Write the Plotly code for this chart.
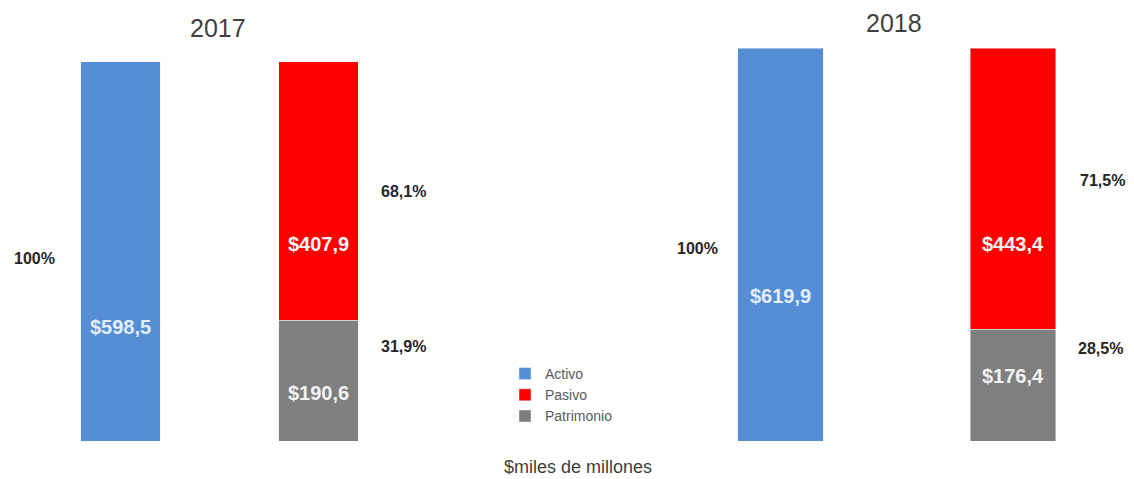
import plotly.graph_objects as go

# ---- data ----
years = ["2017", "2018"]
categories = ["Activo", "Pasivo y Patrimonio"]
activo = [598.5, 619.9]
pasivo = [407.9, 443.4]
patrimonio = [190.6, 176.4]
pct_activo = ["100%", "100%"]
pct_pasivo = ["68,1%", "71,5%"]
pct_patrimonio = ["31,9%", "28,5%"]
unit_label = "$miles de millones"

# ---- style ----
OFF = 8                      # page body margin
W, H = 1134 - OFF, 479 - OFF
C_ACT, C_PAS, C_PAT = "#558ED5", "#FF0000", "#7F7F7F"
FONT = "Liberation Sans"
TOP, BOTTOM = 15, 433        # plot area in figure px
PH = BOTTOM - TOP

def py(p):  # page pixel y -> paper y
    return (BOTTOM - (p - OFF)) / PH

def px(p):  # page pixel x -> paper x
    return (p - OFF) / W

def money(v):
    return "$" + f"{v:.1f}".replace(".", ",")

fig = go.Figure()
axes = [("x", "y"), ("x2", "y")]
widths = [0.4, 0.366]
for i, yr in enumerate(years):
    xa, ya = axes[i]
    fig.add_trace(go.Bar(x=[categories[0]], y=[activo[i]], name="Activo", marker_color=C_ACT,
                         width=widths[i], xaxis=xa, yaxis=ya, legendgroup="a", showlegend=(i == 0),
                         legendrank=1, hoverinfo="skip"))
    fig.add_trace(go.Bar(x=[categories[1]], y=[patrimonio[i]], name="Patrimonio", marker_color=C_PAT,
                         width=widths[i], xaxis=xa, yaxis=ya, legendgroup="c", showlegend=(i == 0),
                         legendrank=3, hoverinfo="skip"))
    fig.add_trace(go.Bar(x=[categories[1]], y=[pasivo[i]], name="Pasivo", marker_color=C_PAS,
                         width=widths[i], xaxis=xa, yaxis=ya, legendgroup="b", showlegend=(i == 0),
                         legendrank=2, hoverinfo="skip"))

# label layout positions (page pixels)
title_pos = [(218, 28), (894, 23)]
act_pct_pos = [(34, 258), (697, 248)]
pas_pct_pos = [(403, 192), (1102, 180)]
pat_pct_pos = [(403, 346), (1100, 348)]
act_val_y = [327, 296]
pas_val_y = [244, 244]
pat_val_y = [393, 376]

ann = []
def add(text, x, y, size, color, xref="paper"):
    ann.append(dict(text=text, x=x, y=y, xref=xref, yref="paper", xanchor="center",
                    yanchor="middle", showarrow=False,
                    font=dict(size=size, color=color, family=FONT)))

for i, yr in enumerate(years):
    xref = axes[i][0]
    add(yr, px(title_pos[i][0]), py(title_pos[i][1]), 25, "#404040")
    for txt, (x0, y0) in [(pct_activo[i], act_pct_pos[i]), (pct_pasivo[i], pas_pct_pos[i]),
                          (pct_patrimonio[i], pat_pct_pos[i])]:
        add("<b>" + txt + "</b>", px(x0), py(y0), 16, "#262626")
    for txt, cat, yy, col in [(money(activo[i]), categories[0], act_val_y[i], "#E3EEFA"),
                              (money(pasivo[i]), categories[1], pas_val_y[i], "#F8F8F8"),
                              (money(patrimonio[i]), categories[1], pat_val_y[i], "#F2F2F2")]:
        add("<b>" + txt + "</b>", cat, py(yy), 20, col, xref=xref)
add(unit_label, px(578), py(467), 18, "#404040")

fig.update_layout(
    width=W, height=H,
    margin=dict(l=0, r=0, t=TOP, b=H - BOTTOM),
    paper_bgcolor="white", plot_bgcolor="white",
    barmode="stack",
    showlegend=True,
    legend=dict(x=px(505), y=py(358), xanchor="left", yanchor="top",
                font=dict(size=14, color="#595959", family=FONT),
                bgcolor="rgba(0,0,0,0)", tracegroupgap=0, itemwidth=30),
    xaxis=dict(domain=[13.5 / W, 429.3 / W], range=[-0.5, 1.6], visible=False,
               categoryorder="array", categoryarray=categories),
    xaxis2=dict(domain=[633 / W, 1109.6 / W], range=[-0.6, 1.45], visible=False, anchor="y",
                categoryorder="array", categoryarray=categories),
    yaxis=dict(range=[0, 660], visible=False),
    annotations=ann,
)

fig.write_html("out.html")
